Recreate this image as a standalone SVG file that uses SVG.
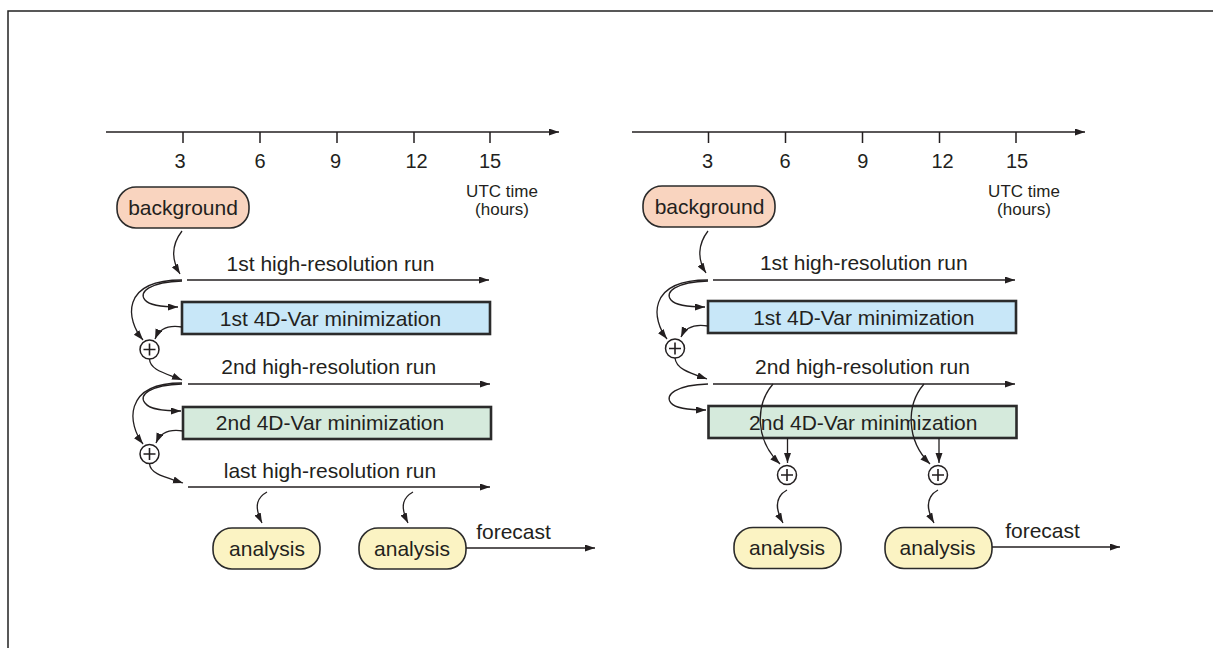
<svg xmlns="http://www.w3.org/2000/svg" width="1213" height="648" viewBox="0 0 1213 648">
<defs>
<style>
.ln{fill:none;stroke:#231f20;stroke-width:1.3}
.ax{fill:none;stroke:#231f20;stroke-width:1.5}
.frame{fill:none;stroke:#222;stroke-width:1.5}
.bx{stroke:#2b2b2b;stroke-width:2.6}
.pill{stroke:#2b2b2b;stroke-width:1.6}
.plus{fill:#fff;stroke:#231f20;stroke-width:1.5}
.pl{fill:none;stroke:#231f20;stroke-width:1.6}
.t{font-family:"Liberation Sans",Arial,Helvetica,sans-serif;font-size:21px;fill:#231f20;text-anchor:middle}
.tk{font-family:"Liberation Sans",Arial,Helvetica,sans-serif;font-size:20px;fill:#231f20;text-anchor:middle}
.u{font-family:"Liberation Sans",Arial,Helvetica,sans-serif;font-size:17px;fill:#231f20;text-anchor:middle}
</style>
<marker id="ah" markerWidth="10" markerHeight="8" refX="10" refY="3.5" orient="auto" markerUnits="userSpaceOnUse">
<path d="M0,0 L10,3.5 L0,7 z" fill="#231f20"/>
</marker>
</defs>
<rect width="1213" height="648" fill="#fff"/>
<path class="frame" d="M8 648 V11 H1213"/>

<!-- LEFT PANEL -->
<g id="left-axis">
<path class="ax" d="M106 132 H559" marker-end="url(#ah)"/>
<path class="ax" d="M183 132 V143 M260 132 V143 M337 132 V143 M414 132 V143 M490 132 V143"/>
<text class="tk" x="180" y="167.5">3</text>
<text class="tk" x="260" y="167.5">6</text>
<text class="tk" x="335.5" y="167.5">9</text>
<text class="tk" x="416.5" y="167.5">12</text>
<text class="tk" x="490" y="167.5">15</text>
<text class="u" x="502" y="196.5">UTC time</text>
<text class="u" x="502" y="214.5">(hours)</text>
</g>

<g id="left-background">
<rect class="pill" x="117" y="187" width="132" height="41" rx="19" fill="#f9d4bf"/>
<text class="t" x="183" y="214.5">background</text>
</g>
<g id="left-run1"><text class="t" x="330.5" y="270.5">1st high-resolution run</text></g>
<g id="left-min1">
<rect class="bx" x="182" y="302" width="308" height="32" fill="#c8e7f8"/>
<text class="t" x="330.5" y="325.5">1st 4D-Var minimization</text>
</g>
<g id="left-plus1"><circle class="plus" cx="149.5" cy="349.5" r="9.5"/><path class="pl" d="M143.5 349.5 H155.5 M149.5 343.5 V355.5"/></g>
<g id="left-run2"><text class="t" x="328.7" y="374">2nd high-resolution run</text></g>
<g id="left-min2">
<rect class="bx" x="183" y="407" width="308" height="32" fill="#d5eadc"/>
<text class="t" x="330" y="430">2nd 4D-Var minimization</text>
</g>
<g id="left-plus2"><circle class="plus" cx="149.5" cy="454" r="9.5"/><path class="pl" d="M143.5 454 H155.5 M149.5 448 V460"/></g>
<g id="left-run3"><text class="t" x="330" y="477.5">last high-resolution run</text></g>
<g id="left-analysis1">
<rect class="pill" x="213" y="528" width="107" height="41" rx="19" fill="#fbf3c3"/>
<text class="t" x="267" y="555.5">analysis</text>
</g>
<g id="left-analysis2">
<rect class="pill" x="359" y="528" width="107" height="41" rx="19" fill="#fbf3c3"/>
<text class="t" x="412" y="555.5">analysis</text>
</g>
<g id="left-forecast"><text class="t" x="513.5" y="538.5">forecast</text></g>

<!-- RIGHT PANEL -->
<g id="right-axis">
<path class="ax" d="M632 132 H1085" marker-end="url(#ah)"/>
<path class="ax" d="M708.5 132 V143 M785.5 132 V143 M862.5 132 V143 M939.5 132 V143 M1016 132 V143"/>
<text class="tk" x="707.5" y="167.5">3</text>
<text class="tk" x="785" y="167.5">6</text>
<text class="tk" x="862.8" y="167.5">9</text>
<text class="tk" x="942.5" y="167.5">12</text>
<text class="tk" x="1017" y="167.5">15</text>
<text class="u" x="1024" y="196.5">UTC time</text>
<text class="u" x="1024" y="214.5">(hours)</text>
</g>
<g id="right-background">
<rect class="pill" x="643" y="186" width="132" height="41" rx="19" fill="#f9d4bf"/>
<text class="t" x="709.5" y="213.5">background</text>
</g>
<g id="right-run1"><text class="t" x="863.8" y="270">1st high-resolution run</text></g>
<g id="right-min1">
<rect class="bx" x="708" y="301" width="308" height="32" fill="#c8e7f8"/>
<text class="t" x="863.8" y="325">1st 4D-Var minimization</text>
</g>
<g id="right-plus1"><circle class="plus" cx="675" cy="348.5" r="9.5"/><path class="pl" d="M669 348.5 H681 M675 342.5 V354.5"/></g>
<g id="right-run2"><text class="t" x="862.5" y="374">2nd high-resolution run</text></g>
<g id="right-min2">
<rect class="bx" x="708.5" y="406" width="308" height="32" fill="#d5eadc"/>
<text class="t" x="863.3" y="429.5">2nd 4D-Var minimization</text>
</g>
<g id="right-plus2"><circle class="plus" cx="787" cy="475" r="9.5"/><path class="pl" d="M781 475 H793 M787 469 V481"/></g>
<g id="right-plus3"><circle class="plus" cx="938" cy="475" r="9.5"/><path class="pl" d="M932 475 H944 M938 469 V481"/></g>
<g id="right-analysis1">
<rect class="pill" x="734" y="527.5" width="107" height="41" rx="19" fill="#fbf3c3"/>
<text class="t" x="787" y="555">analysis</text>
</g>
<g id="right-analysis2">
<rect class="pill" x="885" y="527.5" width="107" height="41" rx="19" fill="#fbf3c3"/>
<text class="t" x="937.5" y="555">analysis</text>
</g>
<g id="right-forecast"><text class="t" x="1042.5" y="538">forecast</text></g>

<g id="connectors">
<!-- left -->
<path class="ln" d="M182 231 C172 244, 171 259, 180 274" marker-end="url(#ah)"/>
<path class="ln" d="M187 280 H489" marker-end="url(#ah)"/>
<path class="ln" d="M182 280 C120 280, 126 320, 143 340" marker-end="url(#ah)"/>
<path class="ln" d="M182 281 C150 282, 138 292, 145 300 C150 306, 164 307, 178 307" marker-end="url(#ah)"/>
<path class="ln" d="M182 327 C170 325, 160 327, 155 339" marker-end="url(#ah)"/>
<path class="ln" d="M149.5 359 C150 370, 165 373, 182 380" marker-end="url(#ah)"/>
<path class="ln" d="M188 384 H490" marker-end="url(#ah)"/>
<path class="ln" d="M182 383 C122 383, 128 425, 143 444" marker-end="url(#ah)"/>
<path class="ln" d="M182 384 C150 385, 138 395, 145 403 C150 410, 165 411, 181 411" marker-end="url(#ah)"/>
<path class="ln" d="M183 431 C171 429, 161 431, 156 443" marker-end="url(#ah)"/>
<path class="ln" d="M149.5 463.5 C150 474, 165 477, 183 483" marker-end="url(#ah)"/>
<path class="ln" d="M188 487 H490" marker-end="url(#ah)"/>
<path class="ln" d="M267 492 C258 497, 253 505, 262 523" marker-end="url(#ah)"/>
<path class="ln" d="M413 492 C404 497, 399 505, 408 523" marker-end="url(#ah)"/>
<path class="ln" d="M466 548 H595" marker-end="url(#ah)"/>
<!-- right -->
<path class="ln" d="M708 231 C698 244, 697 259, 706 273" marker-end="url(#ah)"/>
<path class="ln" d="M713 280 H1015" marker-end="url(#ah)"/>
<path class="ln" d="M708 280 C646 280, 652 320, 667 339" marker-end="url(#ah)"/>
<path class="ln" d="M708 281 C676 282, 664 292, 671 300 C676 306, 690 307, 705 307" marker-end="url(#ah)"/>
<path class="ln" d="M708 326 C696 324, 686 326, 681 337" marker-end="url(#ah)"/>
<path class="ln" d="M675 358 C676 369, 690 373, 707 379" marker-end="url(#ah)"/>
<path class="ln" d="M713 384 H1015" marker-end="url(#ah)"/>
<path class="ln" d="M708 384 C676 385, 664 395, 671 403 C676 409, 690 410, 706 410" marker-end="url(#ah)"/>
<path class="ln" d="M773 384 C755 405, 755 440, 780 464" marker-end="url(#ah)"/>
<path class="ln" d="M924 384 C906 405, 906 440, 930 464" marker-end="url(#ah)"/>
<path class="ln" d="M787.5 438 V463" marker-end="url(#ah)"/>
<path class="ln" d="M939 438 V463" marker-end="url(#ah)"/>
<path class="ln" d="M787 490 C778 495, 773 505, 783 523" marker-end="url(#ah)"/>
<path class="ln" d="M938 490 C929 495, 924 505, 934 523" marker-end="url(#ah)"/>
<path class="ln" d="M992 547 H1120" marker-end="url(#ah)"/>
</g>
</svg>
